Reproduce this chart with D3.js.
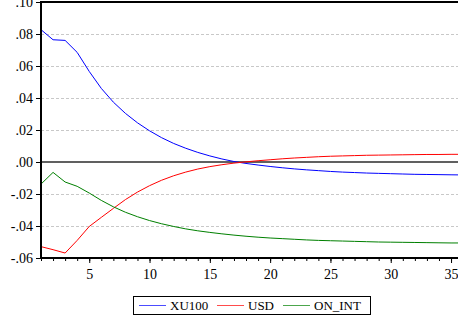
<!DOCTYPE html>
<html>
<head>
<meta charset="utf-8">
<script src="https://cdn.jsdelivr.net/npm/d3@7"></script>
<style>
  body { margin: 0; background: #fff; }
  text { font-family: "Liberation Serif", "Times New Roman", serif; }
</style>
</head>
<body>
<svg id="chart" width="458" height="320"></svg>
<script>
// periods 1..36
var periods = d3.range(1, 37);

var xu100 = [0.0827, 0.0764, 0.0760, 0.0685, 0.0566, 0.0460, 0.0374, 0.0304, 0.0245, 0.0195,
             0.0152, 0.0116, 0.0086, 0.0060, 0.0038, 0.0019, 0.0003, -0.0009, -0.0019, -0.0028,
             -0.0036, -0.0043, -0.0049, -0.0054, -0.0059, -0.0063, -0.0066, -0.0069, -0.0071, -0.0073,
             -0.0075, -0.0077, -0.0078, -0.0079, -0.0080, -0.0081];

var usd = [-0.0529, -0.0548, -0.0569, -0.0490, -0.0403, -0.0346, -0.0290, -0.0235, -0.0188, -0.0148,
           -0.0114, -0.0086, -0.0063, -0.0044, -0.0029, -0.0017, -0.0007, 0.0001, 0.0008, 0.0014,
           0.0020, 0.0025, 0.0029, 0.0033, 0.0036, 0.0038, 0.0040, 0.0042, 0.0043, 0.0044,
           0.0045, 0.0046, 0.0047, 0.0047, 0.0048, 0.0048];

var onInt = [-0.0138, -0.0065, -0.0125, -0.0152, -0.0194, -0.0240, -0.0280, -0.0314, -0.0342, -0.0366,
             -0.0386, -0.0403, -0.0418, -0.0430, -0.0440, -0.0449, -0.0457, -0.0464, -0.0470, -0.0475,
             -0.0479, -0.0483, -0.0487, -0.0490, -0.0492, -0.0494, -0.0496, -0.0498, -0.0500, -0.0501,
             -0.0502, -0.0503, -0.0504, -0.0505, -0.0506, -0.0506];

var seriesNames = ["XU100", "USD", "ON_INT"];
var seriesColors = ["#0000ff", "#ff0000", "#008000"];

var yTicks = [0.10, 0.08, 0.06, 0.04, 0.02, 0.00, -0.02, -0.04, -0.06];
var yTickLabels = [".10", ".08", ".06", ".04", ".02", ".00", "-.02", "-.04", "-.06"];
var xMajorTicks = [5, 10, 15, 20, 25, 30, 35];

var svg = d3.select("#chart"),
    plotLeft = 41,
    plotTop = 2,
    plotBottom = 258;

var xScale = d3.scaleLinear().domain([1, 36]).range([plotLeft, plotLeft + 35 * 12.06]),
    yScale = d3.scaleLinear().domain([-0.06, 0.10]).range([plotBottom, plotTop]);

// dashed grid
svg.append("g")
    .selectAll("line")
    .data(yTicks.filter(function(d) { return d !== 0 && d !== 0.10 && d !== -0.06; }))
    .enter().append("line")
    .attr("x1", plotLeft)
    .attr("x2", 458)
    .attr("y1", function(d) { return Math.round(yScale(d)) + 0.5; })
    .attr("y2", function(d) { return Math.round(yScale(d)) + 0.5; })
    .attr("stroke", "#c8c8c8")
    .attr("stroke-dasharray", "3,2");

// zero line
svg.append("line")
    .attr("x1", plotLeft)
    .attr("x2", 458)
    .attr("y1", yScale(0))
    .attr("y2", yScale(0))
    .attr("stroke", "#606060")
    .attr("stroke-width", 2);

// series
var line = d3.line()
    .x(function(d, i) { return xScale(periods[i]); })
    .y(function(d) { return yScale(d); });

[xu100, usd, onInt].forEach(function(s, i) {
    svg.append("path")
        .datum(s)
        .attr("d", line)
        .attr("fill", "none")
        .attr("stroke", seriesColors[i])
        .attr("stroke-width", 1);
});

// frame
svg.append("path")
    .attr("d", "M458," + plotTop + "H" + plotLeft + "V" + plotBottom + "H458")
    .attr("fill", "none")
    .attr("stroke", "#000")
    .attr("stroke-width", 2);

// x axis: minor ticks every period, major with labels
var xMinor = svg.append("g")
    .attr("transform", "translate(0," + plotBottom + ")")
    .call(d3.axisBottom(xScale).tickValues(periods).tickSize(3).tickFormat(""));
xMinor.select(".domain").remove();

var xMajor = svg.append("g")
    .attr("transform", "translate(0," + plotBottom + ")")
    .call(d3.axisBottom(xScale).tickValues(xMajorTicks).tickSize(5).tickPadding(6)
        .tickFormat(function(d) { return d; }));
xMajor.select(".domain").remove();
xMajor.selectAll("text").attr("font-size", 14).attr("fill", "#000").attr("font-family", "Liberation Serif");

// y axis
var yAxis = svg.append("g")
    .attr("transform", "translate(" + plotLeft + ",0)")
    .call(d3.axisLeft(yScale).tickValues(yTicks).tickSize(5).tickPadding(3)
        .tickFormat(function(d, i) { return yTickLabels[i]; }));
yAxis.select(".domain").remove();
yAxis.selectAll("text").attr("font-size", 14).attr("fill", "#000").attr("font-family", "Liberation Serif");

// legend
var legend = svg.append("g");
legend.append("rect")
    .attr("x", 133.5)
    .attr("y", 296.5)
    .attr("width", 237)
    .attr("height", 18)
    .attr("fill", "#fff")
    .attr("stroke", "#000");

var legendX = [139, 217, 283];
seriesNames.forEach(function(name, i) {
    legend.append("rect")
        .attr("x", legendX[i])
        .attr("y", 305)
        .attr("width", 27)
        .attr("height", 1)
        .attr("fill", seriesColors[i])
        .attr("opacity", 0.7);
    legend.append("text")
        .attr("x", legendX[i] + 31)
        .attr("y", 310)
        .attr("font-size", 13)
        .attr("fill", "#000")
        .text(name);
});
</script>
</body>
</html>
